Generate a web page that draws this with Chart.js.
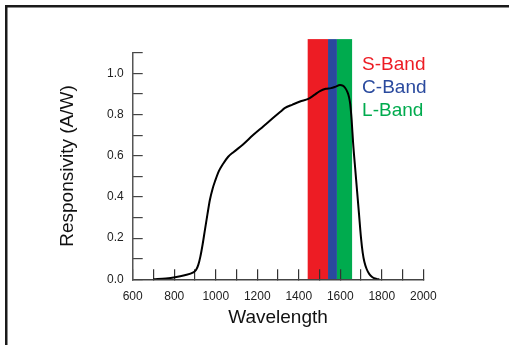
<!DOCTYPE html>
<html><head><meta charset="utf-8">
<script src="https://cdn.jsdelivr.net/npm/chart.js@4/dist/chart.umd.min.js"></script>
<style>
html,body{margin:0;padding:0;background:#fff;width:509px;height:345px;overflow:hidden;}
#wrap{position:absolute;left:0;top:0;width:509px;height:345px;}
</style></head>
<body>
<div id="wrap"><canvas id="c" width="509" height="345"></canvas></div>
<script>
// Responsivity curve (wavelength nm, A/W)
const wavelengths = [700,760,804,850,892,905,916,926,937,948,960,972,985,998,1015,1035,1060,1085,1130,1180,1230,1277,1310,1334,1370,1406,1446,1475,1502,1530,1555,1575,1599,1612,1623,1634,1642,1648,1655,1662,1670,1680,1690,1700,1708,1716,1727,1740,1755,1775,1788];
const responsivity = [0,0.004,0.01,0.02,0.034,0.045,0.07,0.11,0.17,0.24,0.315,0.386,0.44,0.48,0.525,0.56,0.595,0.617,0.653,0.7,0.743,0.784,0.812,0.832,0.848,0.863,0.876,0.895,0.914,0.925,0.928,0.934,0.943,0.94,0.93,0.91,0.885,0.85,0.77,0.66,0.56,0.44,0.32,0.2,0.13,0.085,0.05,0.025,0.01,0.002,0];
// Bands
const bandNames = ["S-Band","C-Band","L-Band"];
const bandStart = [1443,1541,1584];
const bandEnd = [1541,1584,1657];
const bandTop = 1.166;
const bandColors = ["#ED1C24","#2A4A9E","#00AB4E"];
// Axis ticks
const xTickLabels = [600,800,1000,1200,1400,1600,1800,2000];
const yTickLabels = ["0.0","0.2","0.4","0.6","0.8","1.0"];

const FONT = "'Liberation Sans', Arial, Helvetica, sans-serif";

const bandPlugin = {
  id:'bands',
  beforeDraw(chart){
    const ctx = chart.ctx, xs = chart.scales.x, ys = chart.scales.y;
    ctx.save();
    // outer frame (top and left edges)
    ctx.fillStyle = '#1a1a1a';
    ctx.fillRect(5, 5, chart.width - 5, 2.5);
    ctx.fillRect(5, 5, 2.5, chart.height - 5);
    for(let i=0;i<bandNames.length;i++){
      const x0 = xs.getPixelForValue(bandStart[i]);
      const x1 = xs.getPixelForValue(bandEnd[i]);
      const yT = ys.getPixelForValue(bandTop);
      const yB = ys.getPixelForValue(0);
      ctx.fillStyle = bandColors[i];
      ctx.fillRect(x0, yT, x1-x0, yB-yT);
    }
    ctx.restore();
  },
  afterDraw(chart){
    const ctx = chart.ctx, xs = chart.scales.x, ys = chart.scales.y;
    ctx.save();
    ctx.font = "19px " + FONT;
    ctx.textAlign = 'left';
    ctx.textBaseline = 'alphabetic';
    const lx = xs.getPixelForValue(bandEnd[2]) + 10;
    const y0 = ys.getPixelForValue(1.0) - 3;
    for(let i=0;i<bandNames.length;i++){
      ctx.fillStyle = bandColors[i];
      ctx.fillText(bandNames[i], lx, y0 + i*23);
    }
    ctx.restore();
  }
};

new Chart(document.getElementById('c'), {
  type:'line',
  data:{
    datasets:[{
      data: wavelengths.map((w,i)=>({x:w,y:responsivity[i]})),
      borderColor:'#000',
      borderWidth:2,
      pointRadius:0,
      fill:false,
      tension:0.4,
      cubicInterpolationMode:'monotone'
    }]
  },
  options:{
    responsive:false,
    animation:false,
    devicePixelRatio:1,
    layout:{padding:{left:56.3,top:52.7,right:85.7,bottom:15.6}},
    plugins:{legend:{display:false},tooltip:{enabled:false}},
    scales:{
      x:{
        type:'linear', min:600, max:2000,
        afterFit(s){ s.height = 50.1; },
        border:{display:true,color:'#444',width:1.5},
        grid:{drawOnChartArea:false,drawTicks:true,tickLength:-10,color:'#333',lineWidth:1.2},
        ticks:{stepSize:100,autoSkip:false,maxRotation:0,padding:20,color:'#222',font:{family:FONT,size:12},
          callback:(v)=> xTickLabels.includes(Math.round(v)) ? String(Math.round(v)) : ''},
        title:{display:true,text:'Wavelength',color:'#111',font:{family:FONT,size:19},padding:0}
      },
      y:{
        type:'linear', min:0, max:1.1,
        afterFit(s){ s.width = 76.4; },
        border:{display:true,color:'#555',width:1.5},
        grid:{drawOnChartArea:false,drawTicks:true,tickLength:-10,color:'#444',lineWidth:1.2},
        ticks:{stepSize:0.1,autoSkip:false,padding:19,color:'#222',font:{family:FONT,size:12},
          callback:(v)=>{ const k=Math.round(v*10); return (k%2===0 && k<=10) ? yTickLabels[k/2] : ''; }},
        title:{display:true,text:'Responsivity (A/W)',color:'#111',font:{family:FONT,size:19},padding:0}
      }
    }
  },
  plugins:[bandPlugin]
});
</script>
</body></html>
